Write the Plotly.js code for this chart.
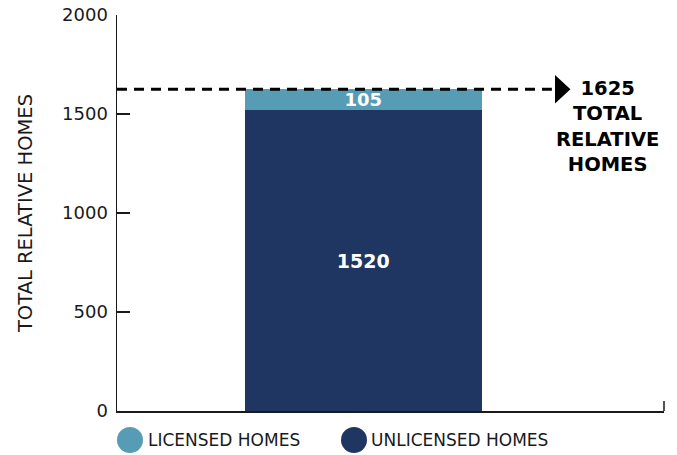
<!DOCTYPE html>
<html>
<head>
<meta charset="utf-8">
<script src="https://cdn.plot.ly/plotly-3.0.1.min.js"></script>
<style>html,body{margin:0;padding:0;background:#fff;}#chart{width:677px;height:455px;}</style>
</head>
<body>
<div id="chart"></div>
<script>
const categories = ['Relative Homes'];
const unlicensedValues = [1520];
const licensedValues = [105];
const yTickValues = [0, 500, 1000, 1500, 2000];
const seriesNames = ['LICENSED HOMES', 'UNLICENSED HOMES'];
const totalLabelLines = ['TOTAL', 'RELATIVE', 'HOMES'];

const navy = '#1F3562';
const teal = '#579CB5';
const ink = '#1a1a1a';
const fontFam = '"DejaVu Sans", sans-serif';

const total = unlicensedValues[0] + licensedValues[0];

const traces = [
  {
    type: 'bar', x: categories, y: unlicensedValues, name: seriesNames[1],
    marker: {color: navy}, width: 0.6, showlegend: false,
    text: unlicensedValues.map(String), textposition: 'inside', insidetextanchor: 'middle',
    constraintext: 'none',
    textfont: {family: fontFam, size: 19, color: '#ffffff', weight: 'bold'},
    hoverinfo: 'y+name'
  },
  {
    type: 'bar', x: categories, y: licensedValues, name: seriesNames[0],
    marker: {color: teal}, width: 0.6, showlegend: false,
    text: licensedValues.map(String), textposition: 'inside', insidetextanchor: 'middle',
    constraintext: 'none',
    textfont: {family: fontFam, size: 18, color: '#ffffff', weight: 'bold'},
    hoverinfo: 'y+name'
  }
];

const layout = {
  width: 677, height: 455,
  margin: {l: 117, r: 13, t: 15, b: 44},
  paper_bgcolor: '#ffffff', plot_bgcolor: '#ffffff',
  barmode: 'stack',
  showlegend: false,
  font: {family: fontFam, color: ink},
  xaxis: {
    type: 'category', range: [-0.6236, 0.762], showticklabels: false,
    showline: true, linecolor: ink, linewidth: 1.5, ticks: '', showgrid: false,
    zeroline: false, fixedrange: true
  },
  yaxis: {
    range: [0, 2000], tickvals: yTickValues, ticktext: yTickValues.map(String),
    ticks: 'inside', ticklen: 13, tickwidth: 1.5, tickcolor: ink,
    showline: true, linecolor: ink, linewidth: 1.5, showgrid: false, zeroline: false,
    tickfont: {family: fontFam, size: 18, color: ink}, ticklabelstandoff: 4,
    title: {text: 'TOTAL RELATIVE HOMES', font: {family: fontFam, size: 19.5, color: ink}, standoff: 24},
    fixedrange: true
  },
  shapes: [
    {type: 'line', xref: 'paper', yref: 'y', x0: 0, x1: 0.795, y0: total, y1: total,
     line: {color: '#000', width: 3, dash: '10px,7px'}},
    {type: 'path', xref: 'paper', yref: 'y',
     path: 'M 0.8007 ' + (total + 72) + ' L 0.829 ' + total + ' L 0.8007 ' + (total - 72) + ' Z',
     fillcolor: '#000', line: {width: 0}},
    {type: 'line', xref: 'paper', yref: 'paper', x0: 1, x1: 1, y0: 0, y1: 0.025,
     line: {color: ink, width: 1.5}},
    {type: 'circle', xref: 'paper', yref: 'paper', xsizemode: 'pixel', ysizemode: 'pixel',
     xanchor: 0, yanchor: 0, x0: 0, x1: 26, y0: -42, y1: -16, fillcolor: teal, line: {width: 0}},
    {type: 'circle', xref: 'paper', yref: 'paper', xsizemode: 'pixel', ysizemode: 'pixel',
     xanchor: 0, yanchor: 0, x0: 224, x1: 250, y0: -42, y1: -16, fillcolor: navy, line: {width: 0}}
  ],
  annotations: [
    {xref: 'paper', yref: 'y', x: 0.8976, y: total, yshift: 14, yanchor: 'top', xanchor: 'center',
     showarrow: false, align: 'center',
     text: '<b>' + [String(total)].concat(totalLabelLines).join('<br>') + '</b>',
     font: {family: fontFam, size: 19.5, color: '#000'}},
    {xref: 'paper', yref: 'paper', x: 0, y: 0, xshift: 29, yshift: -29, xanchor: 'left', yanchor: 'middle',
     showarrow: false, text: seriesNames[0], font: {family: fontFam, size: 17, color: ink}},
    {xref: 'paper', yref: 'paper', x: 0, y: 0, xshift: 252, yshift: -29, xanchor: 'left', yanchor: 'middle',
     showarrow: false, text: seriesNames[1], font: {family: fontFam, size: 17, color: ink}}
  ]
};

Plotly.newPlot('chart', traces, layout, {displayModeBar: false, staticPlot: true});
</script>
</body>
</html>
